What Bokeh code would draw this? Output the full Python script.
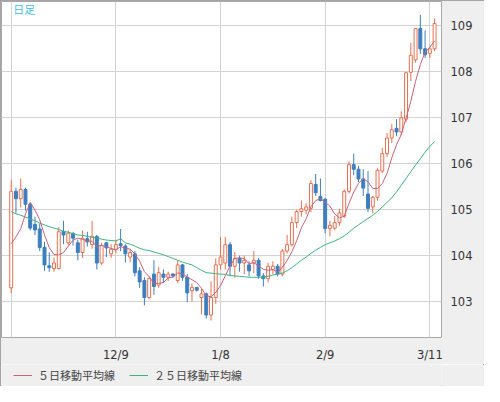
import pandas as pd
from bokeh.plotting import figure
from bokeh.layouts import column
from bokeh.models import (ColumnDataSource, FixedTicker, Range1d, Legend,
                          LegendItem, Label)
from bokeh.embed import file_html
from bokeh.resources import INLINE

# ---- data (USD/JPY daily) ----
dates = [f"{d.month}/{d.day}" for d in pd.bdate_range("2020-11-09", "2021-03-12")]

open_ = [103.30, 105.40, 105.24, 105.44, 105.12, 104.68, 104.58, 104.18, 103.78, 103.72,
         103.72, 104.53, 104.28, 104.48, 104.28, 104.07, 104.37, 104.24, 104.42, 103.84,
         104.28, 104.04, 104.14, 104.26, 104.21, 103.97, 104.04, 103.67, 103.46, 103.09,
         103.60, 103.36, 103.60, 103.53, 103.60, 103.46, 103.80, 103.53, 103.24, 103.31,
         103.09, 103.17, 102.71, 103.09, 103.80, 103.84, 104.24, 103.77, 103.94, 103.84,
         103.80, 103.84, 103.90, 103.56, 103.50, 103.70, 103.77, 103.60, 104.10, 104.24,
         104.72, 104.96, 104.99, 105.03, 105.55, 105.29, 105.23, 104.59, 104.60, 104.72,
         104.86, 105.40, 105.98, 105.88, 105.67, 105.34, 105.06, 105.27, 105.84, 106.22,
         106.56, 106.77, 106.69, 106.97, 107.99, 108.26, 108.94, 108.50, 108.40, 108.50]
high = [105.65, 105.48, 105.68, 105.48, 105.15, 104.85, 104.70, 104.30, 104.07, 103.96,
        104.62, 104.76, 104.55, 104.52, 104.35, 104.55, 104.52, 104.76, 104.45, 104.28,
        104.30, 104.25, 104.35, 104.58, 104.25, 104.14, 104.10, 103.75, 103.53, 103.55,
        103.90, 103.75, 103.70, 103.65, 103.62, 103.90, 103.82, 103.60, 103.40, 103.32,
        103.28, 103.20, 103.44, 103.94, 104.41, 104.41, 104.30, 104.08, 104.00, 104.00,
        103.88, 104.10, 103.95, 103.62, 103.84, 103.88, 103.82, 104.15, 104.45, 104.85,
        105.00, 105.20, 105.14, 105.64, 105.78, 105.68, 105.25, 104.76, 104.86, 105.02,
        105.44, 106.05, 106.22, 105.95, 105.88, 105.84, 105.30, 105.90, 106.35, 106.67,
        106.86, 106.97, 107.14, 107.99, 108.63, 108.94, 109.24, 108.90, 108.55, 109.16]
low = [103.18, 104.93, 105.05, 104.98, 104.55, 104.45, 104.10, 103.67, 103.65, 103.65,
       103.70, 104.25, 104.22, 104.22, 103.90, 103.95, 104.20, 104.15, 103.70, 103.80,
       103.97, 103.95, 104.05, 104.10, 103.85, 103.85, 103.55, 103.30, 102.92, 103.05,
       103.15, 103.30, 103.40, 103.45, 103.52, 103.40, 103.45, 102.99, 103.00, 103.22,
       102.72, 102.63, 102.59, 102.95, 103.70, 103.70, 103.55, 103.52, 103.65, 103.60,
       103.55, 103.62, 103.50, 103.33, 103.42, 103.60, 103.55, 103.55, 104.05, 104.20,
       104.60, 104.85, 104.90, 104.95, 105.30, 105.18, 104.49, 104.42, 104.55, 104.65,
       104.82, 105.35, 105.75, 105.60, 105.30, 104.95, 104.92, 105.20, 105.80, 106.15,
       106.45, 106.60, 106.62, 106.90, 107.80, 108.20, 108.39, 108.30, 108.30, 108.45]
close = [105.40, 105.24, 105.44, 105.12, 104.60, 104.56, 104.18, 103.80, 103.74, 103.84,
         104.52, 104.45, 104.49, 104.38, 104.07, 104.38, 104.30, 104.42, 103.84, 104.22,
         104.17, 104.14, 104.24, 104.22, 104.04, 104.07, 103.63, 103.43, 103.09, 103.50,
         103.33, 103.63, 103.53, 103.60, 103.56, 103.80, 103.53, 103.19, 103.31, 103.25,
         103.17, 102.71, 103.09, 103.80, 103.97, 104.24, 103.77, 103.94, 103.84, 103.90,
         103.67, 103.90, 103.56, 103.50, 103.77, 103.77, 103.60, 104.10, 104.24, 104.72,
         104.96, 105.02, 105.06, 105.57, 105.37, 105.20, 104.59, 104.66, 104.72, 104.93,
         105.40, 105.98, 105.88, 105.67, 105.47, 105.03, 105.27, 105.86, 106.22, 106.56,
         106.74, 106.69, 107.00, 107.98, 108.36, 108.94, 108.50, 108.37, 108.50, 109.05]
# closes of the four sessions before the first bar (for the 5-day average)
prior_close = [104.50, 104.55, 103.50, 103.35]
# 25-day moving average as drawn
ma25 = [104.96, 104.91, 104.88, 104.84, 104.80, 104.76, 104.71, 104.67, 104.63, 104.60,
        104.57, 104.53, 104.51, 104.48, 104.45, 104.44, 104.42, 104.40, 104.38, 104.36,
        104.34, 104.33, 104.32, 104.37, 104.28, 104.25, 104.21, 104.16, 104.13, 104.11,
        104.08, 104.05, 104.02, 103.98, 103.94, 103.90, 103.86, 103.83, 103.80, 103.74,
        103.68, 103.63, 103.62, 103.61, 103.60, 103.59, 103.57, 103.56, 103.55, 103.54,
        103.53, 103.53, 103.53, 103.54, 103.55, 103.58, 103.60, 103.62, 103.67, 103.74,
        103.82, 103.90, 103.97, 104.05, 104.12, 104.18, 104.24, 104.28, 104.32, 104.37,
        104.43, 104.51, 104.60, 104.67, 104.74, 104.81, 104.88, 104.96, 105.06, 105.16,
        105.26, 105.39, 105.53, 105.68, 105.83, 105.97, 106.11, 106.25, 106.38, 106.48]

tick_dates = ["11/9", "12/9", "1/8", "2/9", "3/11"]
hidden_tick_dates = ["11/9"]
price_ticks = [103, 104, 105, 106, 107, 108, 109]
legend_labels = ["５日移動平均線", "２５日移動平均線"]

# ---- derived ----
idx = list(range(len(dates)))
ma5 = pd.Series(prior_close + close).rolling(5).mean().tolist()[len(prior_close):]

UP, DOWN = "#e8704f", "#3d7ebf"
MA5_COLOR, MA25_COLOR = "#c8627a", "#3fb37f"
BG = "#efefef"
up = [c >= o for o, c in zip(open_, close)]
src = ColumnDataSource(dict(
    x=idx, o=open_, h=high, l=low, c=close,
    top=[max(o, c) for o, c in zip(open_, close)],
    bottom=[min(o, c) for o, c in zip(open_, close)],
    color=[UP if u else DOWN for u in up],
    fill=["white" if u else DOWN for u in up],
))

p = figure(width=484, height=364, output_backend="svg", toolbar_location=None,
           x_range=Range1d(-2.04, 90.45), y_range=Range1d(102.22, 109.53),
           x_axis_location="below", y_axis_location="right")
p.min_border_left = 1
p.min_border_top = 1
p.min_border_right = 43
p.min_border_bottom = 20
p.border_fill_color = BG
p.background_fill_color = "white"
p.outline_line_color = "#a8a8a8"

tick_idx = [dates.index(d) for d in tick_dates]
xa = p.xaxis[0]
xa.ticker = FixedTicker(ticks=tick_idx)
xa.major_label_overrides = {dates.index(d): ("" if d in hidden_tick_dates else d) for d in tick_dates}
ya = p.yaxis[0]
ya.ticker = FixedTicker(ticks=price_ticks)
for ax in (xa, ya):
    ax.major_tick_line_color = None
    ax.minor_tick_line_color = None
    ax.axis_line_color = None
    ax.major_label_text_font = "DejaVu Sans"
    ax.major_label_text_font_size = "11.5px"
    ax.major_label_text_color = "#333333"
xa.major_label_standoff = 4
ya.major_label_standoff = 3

p.xgrid.ticker = FixedTicker(ticks=tick_idx)
p.ygrid.ticker = FixedTicker(ticks=price_ticks)
for g in (p.xgrid, p.ygrid):
    g.grid_line_color = "#d3d3d3"
    g.grid_line_width = 1

p.segment(x0="x", y0="l", x1="x", y1="h", line_color="color", line_width=1, source=src)
p.vbar(x="x", width=0.62, top="top", bottom="bottom", fill_color="fill",
       line_color="color", line_width=1, source=src)

p.line(idx, ma25, line_color=MA25_COLOR, line_width=1)
p.line(idx, ma5, line_color=MA5_COLOR, line_width=1)

p.add_layout(Label(x=0.41, y=109.37, text="日足", text_color="#45bfdf",
                   text_font="Noto Sans CJK JP", text_font_size="11px",
                   text_baseline="middle"))

# ---- legend strip below the chart ----
# the strip's ranges exclude the series, so only the legend entries show
lg = figure(width=484, height=22, output_backend="svg", toolbar_location=None,
            x_range=Range1d(-1000, -999), y_range=Range1d(0, 1))
lg.axis.visible = False
lg.grid.visible = False
lg.min_border = 0
lg.outline_line_color = None
lg.background_fill_color = BG
lg.border_fill_color = BG
r5 = lg.line(idx, ma5, line_color=MA5_COLOR, line_width=1)
r25 = lg.line(idx, ma25, line_color=MA25_COLOR, line_width=1)
legend = Legend(items=[LegendItem(label=legend_labels[0], renderers=[r5]),
                       LegendItem(label=legend_labels[1], renderers=[r25])],
                orientation="horizontal", location=(9, 0),
                label_text_font="Noto Sans CJK JP", label_text_font_size="11px",
                label_text_color="#444444", glyph_width=19, glyph_height=10,
                label_standoff=6, spacing=14, padding=3, margin=0,
                border_line_alpha=0, background_fill_alpha=0)
lg.add_layout(legend, "center")

layout = column(p, lg, spacing=0)
layout.styles = {"outline": "1px solid #8c8c8c", "outline-offset": "-1px"}

open("out.html", "w").write(file_html(layout, INLINE))
